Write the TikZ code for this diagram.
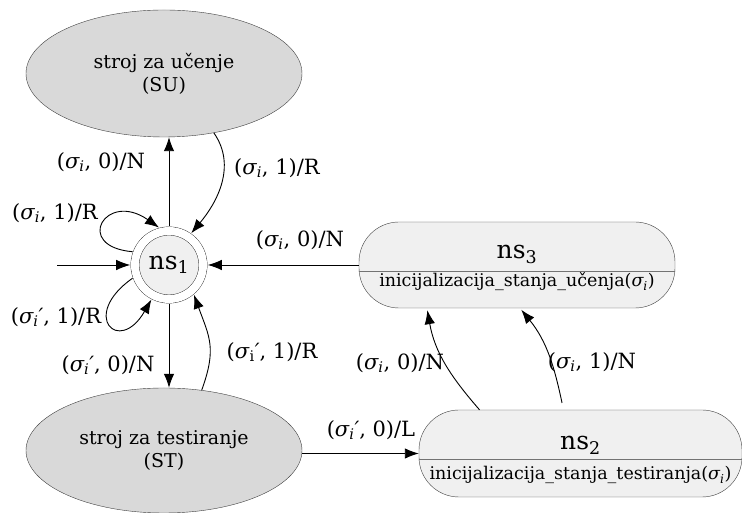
\documentclass[tikz,border=0pt]{standalone}
\usepackage{fontspec}
\setmainfont{DejaVu Serif}
\usetikzlibrary{arrows.meta,shapes.geometric}

\definecolor{strojfill}{RGB}{217,217,217}
\definecolor{stanjefill}{RGB}{240,240,240}
\newcommand{\sigi}{\textit{σ\textsubscript{i}}}
\newcommand{\sigic}{\textit{σ\textsubscript{i}′}}
\newcommand{\sigiu}{\textit{σ}\textsubscript{i}\textit{′}}

\tikzset{
  stroj/.style={ellipse, draw=black!75, fill=strojfill, inner sep=0pt,
    align=center, font=\fontsize{19}{23}\selectfont},
  stanje/.style={rectangle, rounded corners=40pt, draw=black!75,
    fill=stanjefill, inner sep=0pt},
  pocetno/.style={circle, draw=black!85, double, double distance=8pt,
    fill=stanjefill, minimum size=68pt, inner sep=0pt, outer sep=4.8pt,
    font=\fontsize{25}{28}\selectfont},
  ime/.style={font=\fontsize{25}{28}\selectfont, inner sep=0pt},
  opis/.style={font=\fontsize{17.5}{20}\selectfont, inner sep=0pt},
  crta/.style={draw=black!55, line width=0.9pt}
}

\begin{document}
\begin{tikzpicture}[x=1pt,y=1pt,
  arr/.style={-{Latex[length=14pt,width=10.5pt]}, line width=0.9pt},
  lab/.style={font=\fontsize{21}{24}\selectfont, inner sep=0pt}]
  \useasboundingbox (0,0) rectangle (742,513);

  % stanja
  \node[stroj, minimum width=276pt, minimum height=127pt] (SU) at (164,439.5)
    {stroj za učenje\\(SU)};
  \node[stroj, minimum width=276pt, minimum height=125pt] (ST) at (164,62.5)
    {stroj za testiranje\\(ST)};
  \node[pocetno] (ns1) at (169,248) {ns\textsubscript{1}};
  \node[stanje, minimum width=316pt, minimum height=86pt] (ns3) at (517,248) {};
  \node[stanje, minimum width=323pt, minimum height=87pt] (ns2) at (580.5,59.5) {};

  % ns3 i ns2 iznutra
  \node[ime, anchor=base] (ns3ime) at ([yshift=6pt]ns3.center) {ns\textsubscript{3}};
  \draw[crta] ([yshift=-6pt]ns3.west) -- ([yshift=-6pt]ns3.east);
  \node[opis, anchor=base] (ns3opis) at ([yshift=-22pt]ns3.center)
    {inicijalizacija\_stanja\_učenja(\sigi)};
  \node[ime, anchor=base] (ns2ime) at ([yshift=3.5pt]ns2.center) {ns\textsubscript{2}};
  \draw[crta] ([yshift=-5.5pt]ns2.west) -- ([yshift=-5.5pt]ns2.east);
  \node[opis, anchor=base] (ns2opis) at ([yshift=-26.5pt]ns2.center)
    {inicijalizacija\_stanja\_testiranja(\sigi)};

  % prijelazi
  \coordinate (start) at (57,248);
  \draw[arr] (start) -- (ns1.west);
  \draw[arr] (ns1.north) -- (ns1.north |- SU.south);
  \draw[arr] (SU.-50) to[out=-55, in=50] (ns1.55);
  \draw[arr] (ns1.160) .. controls +(175:60) and +(145:65) .. (ns1.105);
  \draw[arr] (ns1.200) .. controls +(215:65) and +(240:65) .. (ns1.243);
  \draw[arr] (ns1.south) -- (ns1.south |- ST.north);
  \draw[arr] (ST.58) to[out=70, in=-70, looseness=1.2] (ns1.-50);
  \draw[arr] (ns3.west) -- (ns1.east);
  \draw[arr] (ST.east |- ns2.west) -- (ns2.west);
  \draw[arr, shorten >=2pt] ([xshift=-101pt]ns2.north) to[out=131, in=-80]
    ([xshift=-90pt]ns3.south);
  \draw[arr, shorten <=7pt, shorten >=2pt] ([xshift=-17pt]ns2.north)
    to[out=102, in=-51] ([xshift=3pt]ns3.south);

  % oznake
  \node[lab] (l1) at (101,351) {(\sigi, 0)/N};
  \node[lab] (l2) at (277,345) {(\sigi, 1)/R};
  \node[lab] (l3) at (55,300) {(\sigi, 1)/R};
  \node[lab] (l4) at (56,196) {(\sigic, 1)/R};
  \node[lab] (l5) at (108,148) {(\sigic, 0)/N};
  \node[lab] (l6) at (272,161) {(\sigiu, 1)/R};
  \node[lab] (l7) at (300,273) {(\sigi, 0)/N};
  \node[lab] (l8) at (371,83) {(\sigic, 0)/L};
  \node[lab] (l9) at (400,150) {(\sigi, 0)/N};
  \node[lab] (l10) at (592,151) {(\sigi, 1)/N};
\end{tikzpicture}
\end{document}
